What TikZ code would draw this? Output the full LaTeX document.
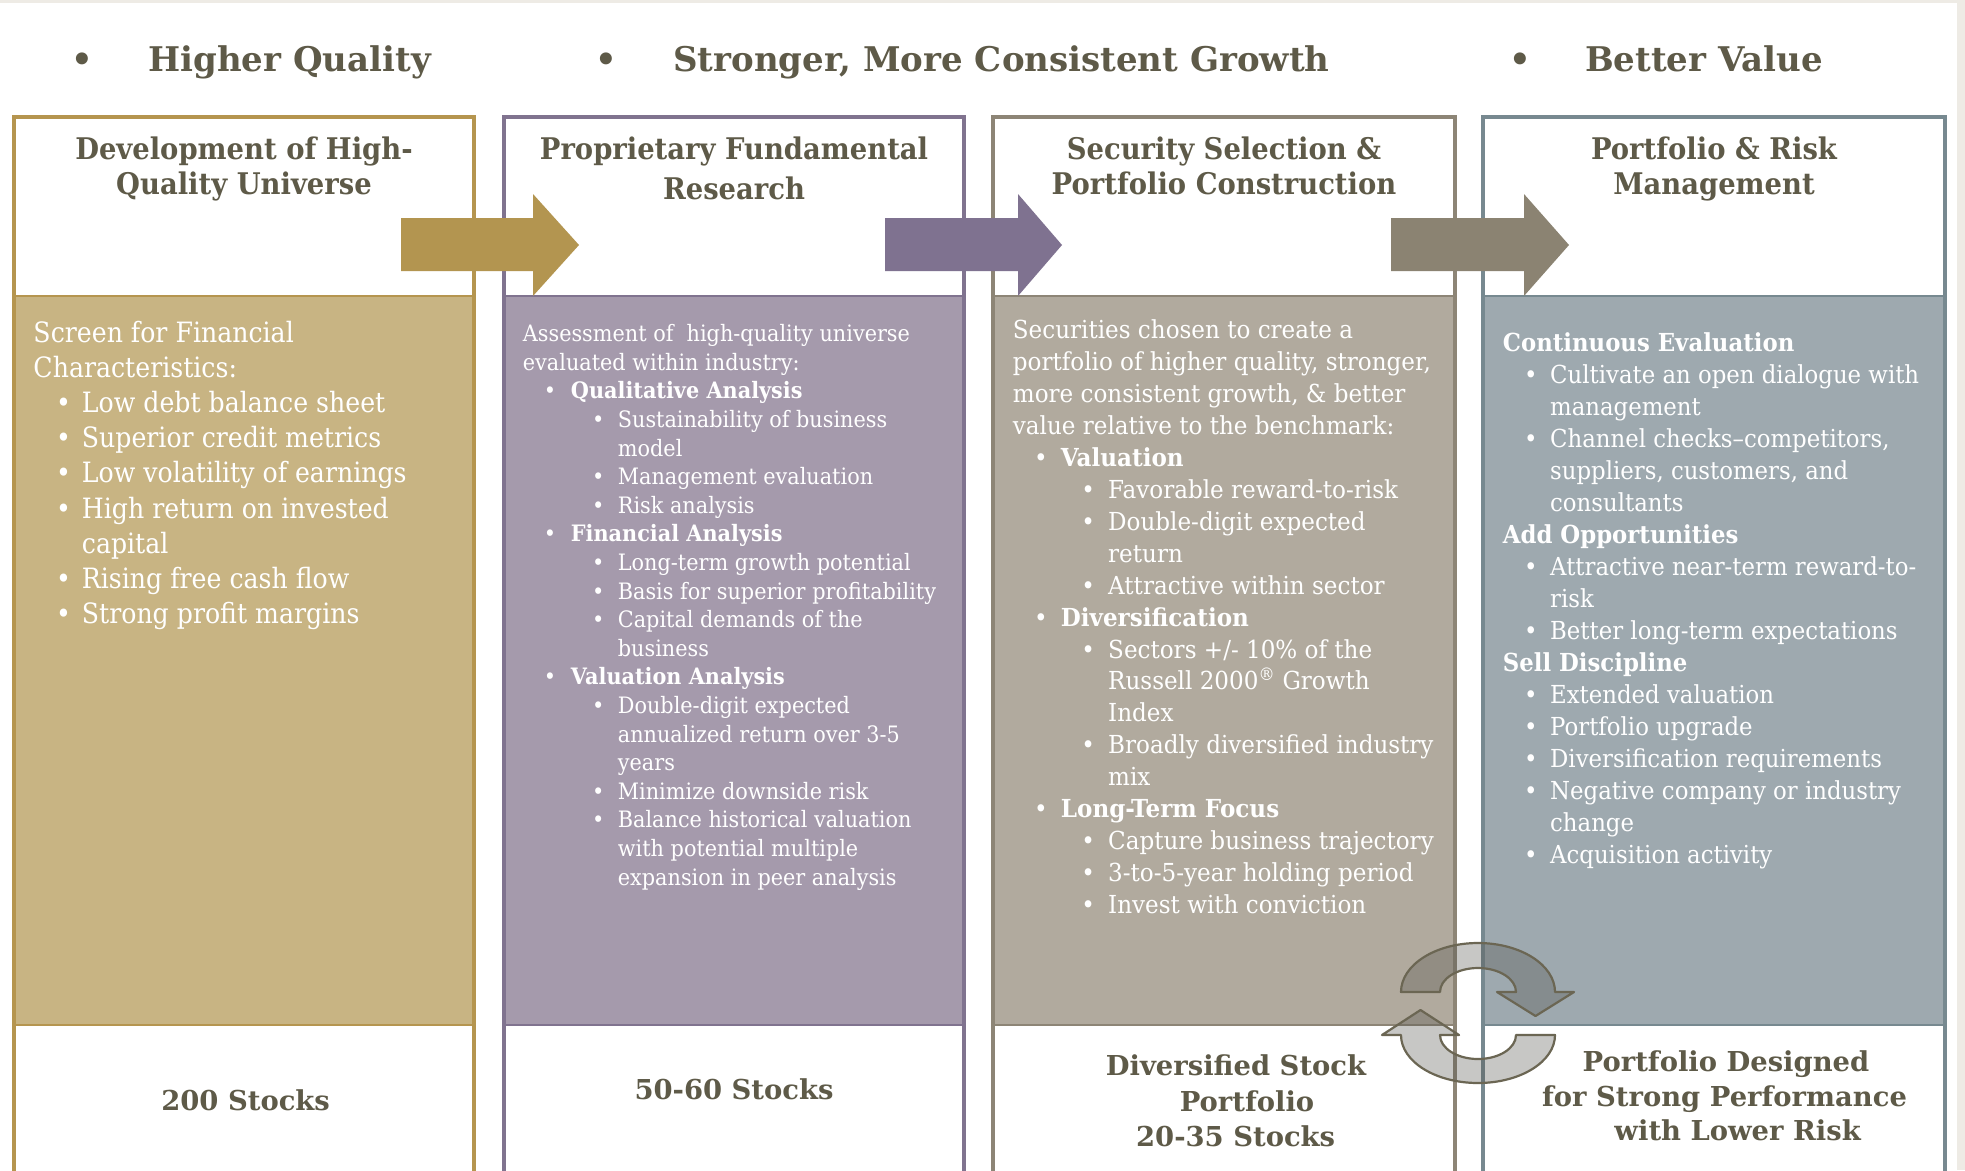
\documentclass[tikz,border=0pt]{standalone}
\usepackage{fontspec}
\setmainfont{DejaVu Serif}
\newfontfamily\bodyfont[FakeStretch=0.92]{DejaVu Serif}
\newfontfamily\bodyfontC[FakeStretch=0.93]{DejaVu Serif}
\newfontfamily\bodyfontA[FakeStretch=0.90]{DejaVu Serif}
\newfontfamily\topfont[FakeStretch=1.0]{DejaVu Serif}
\newfontfamily\ctfont[FakeStretch=0.92]{DejaVu Serif}
\newfontfamily\btfont[FakeStretch=1.0]{DejaVu Serif}
\definecolor{headc}{HTML}{5E5A48}
\definecolor{edgec}{HTML}{EEEBE5}
\definecolor{bA}{HTML}{B5954F}
\definecolor{fA}{HTML}{C8B483}
\definecolor{bB}{HTML}{80738F}
\definecolor{fB}{HTML}{A59AAC}
\definecolor{bC}{HTML}{8D8576}
\definecolor{fC}{HTML}{B1AA9E}
\definecolor{bD}{HTML}{778990}
\definecolor{fD}{HTML}{9EA9AF}
\definecolor{arA}{HTML}{B39550}
\definecolor{arB}{HTML}{7F7290}
\definecolor{arC}{HTML}{8B8372}
\definecolor{cycline}{HTML}{6B6653}
\definecolor{cycfill}{HTML}{51514B}
\newcommand\bu[3]{\hspace*{#1bp}\makebox[0pt]{•}\hspace*{\dimexpr#2bp-#1bp\relax}#3}
\newcommand\ct[2]{\hspace*{#1bp}#2}
\newcommand\pcol[4]{%
  \fill[#4] (#1,296) rectangle (#2,1025);
  \draw[#3, line width=4bp] (#1,1172) -- (#1,117) -- (#2,117) -- (#2,1172);
  \draw[#3, line width=2.5bp] (#1,296) -- (#2,296) (#1,1025) -- (#2,1025);
}
\newcommand\bigarrow[4]{%
  \fill[#4] (#1,218) -- (#2,218) -- (#2,194) -- (#3,245) -- (#2,296) -- (#2,271) -- (#1,271) -- cycle;
}
\tikzset{
  body/.style={anchor=base west, inner sep=0pt, text=white},
  toph/.style={anchor=base west, inner sep=0pt, text=headc, font=\topfont\fontsize{34bp}{40bp}\selectfont\bfseries},
  topdot/.style={anchor=base, inner sep=0pt, text=headc, font=\topfont\fontsize{34bp}{40bp}\selectfont\bfseries},
  ctitle/.style={anchor=base, inner sep=0pt, text=headc},
  btitle/.style={anchor=base, inner sep=0pt, text=headc, font=\btfont\fontsize{27.4bp}{34bp}\selectfont\bfseries},
  cyc/.style={draw=cycline, line width=2.2bp, fill=cycfill, fill opacity=0.32, line join=round}
}
\begin{document}
\begin{tikzpicture}[x=1bp,y=-1bp]
\useasboundingbox (0,0) rectangle (1965,1170);
\fill[white] (0,0) rectangle (1965,1170);
\fill[edgec] (0,0) rectangle (1965,3);
\fill[edgec] (1957,0) rectangle (1965,1170);

% top headings
\node[topdot] (d1) at (82.7,71.7) {•};
\node[toph] (h1) at (148,71.7) {Higher Quality};
\node[topdot] (d2) at (606.5,71.7) {•};
\node[toph] (h2) at (673,71.7) {Stronger, More Consistent Growth};
\node[topdot] (d3) at (1520,71.7) {•};
\node[toph] (h3) at (1585,71.7) {Better Value};

% columns
\pcol{14}{474}{bA}{fA}
\pcol{504}{964}{bB}{fB}
\pcol{993}{1455}{bC}{fC}
\pcol{1483}{1945}{bD}{fD}

% flow arrows
\bigarrow{401}{533}{579}{arA}
\bigarrow{885}{1018}{1062}{arB}
\bigarrow{1391}{1524}{1569}{arC}

% column titles
\node[ctitle] (t1) at (244,159) {\parbox[t]{460bp}{\centering\ctfont\fontsize{29.8bp}{35bp}\selectfont\bfseries Development of High-\\Quality Universe}};
\node[ctitle] (t2) at (734,159) {\parbox[t]{460bp}{\centering\ctfont\fontsize{29.8bp}{40.6bp}\selectfont\bfseries Proprietary Fundamental\\Research}};
\node[ctitle] (t3) at (1224,159) {\parbox[t]{460bp}{\centering\ctfont\fontsize{29.8bp}{35bp}\selectfont\bfseries Security Selection \&\\Portfolio Construction}};
\node[ctitle] (t4) at (1714,159) {\parbox[t]{460bp}{\centering\ctfont\fontsize{29.8bp}{35bp}\selectfont\bfseries Portfolio \& Risk\\Management}};

% column bodies
\node[body] (b1) at (33.3,342) {\parbox[t]{600bp}{\bodyfontA\fontsize{28bp}{35.2bp}\selectfont
Screen for Financial\\
Characteristics:\\
\bu{30}{48.4}{Low debt balance sheet}\\
\bu{30}{48.4}{Superior credit metrics}\\
\bu{30}{48.4}{Low volatility of earnings}\\
\bu{30}{48.4}{High return on invested}\\
\ct{48.4}{capital}\\
\bu{30}{48.4}{Rising free cash flow}\\
\bu{30}{48.4}{Strong profit margins}}};

\node[body] (b2) at (522.7,341.6) {\parbox[t]{600bp}{\bodyfont\fontsize{22.6bp}{28.6bp}\selectfont
Assessment of\ \ high-quality universe\\
evaluated within industry:\\
\bu{27}{48}{\textbf{Qualitative Analysis}}\\
\bu{75.3}{95}{Sustainability of business}\\
\ct{95}{model}\\
\bu{75.3}{95}{Management evaluation}\\
\bu{75.3}{95}{Risk analysis}\\
\bu{27}{48}{\textbf{Financial Analysis}}\\
\bu{75.3}{95}{Long-term growth potential}\\
\bu{75.3}{95}{Basis for superior profitability}\\
\bu{75.3}{95}{Capital demands of the}\\
\ct{95}{business}\\
\bu{27}{48}{\textbf{Valuation Analysis}}\\
\bu{75.3}{95}{Double-digit expected}\\
\ct{95}{annualized return over 3-5}\\
\ct{95}{years}\\
\bu{75.3}{95}{Minimize downside risk}\\
\bu{75.3}{95}{Balance historical valuation}\\
\ct{95}{with potential multiple}\\
\ct{95}{expansion in peer analysis}}};

\node[body] (b3) at (1012.7,338.5) {\parbox[t]{600bp}{\bodyfontC\fontsize{24.8bp}{31.95bp}\selectfont
Securities chosen to create a\\
portfolio of higher quality, stronger,\\
more consistent growth, \& better\\
value relative to the benchmark:\\
\bu{28}{48}{\textbf{Valuation}}\\
\bu{75.3}{95.3}{Favorable reward-to-risk}\\
\bu{75.3}{95.3}{Double-digit expected}\\
\ct{95.3}{return}\\
\bu{75.3}{95.3}{Attractive within sector}\\
\bu{28}{48}{\textbf{Diversification}}\\
\bu{75.3}{95.3}{Sectors +/- 10\% of the}\\
\ct{95.3}{Russell 2000\textsuperscript{®} Growth}\\
\ct{95.3}{Index}\\
\bu{75.3}{95.3}{Broadly diversified industry}\\
\ct{95.3}{mix}\\
\bu{28}{48}{\textbf{Long-Term Focus}}\\
\bu{75.3}{95.3}{Capture business trajectory}\\
\bu{75.3}{95.3}{3-to-5-year holding period}\\
\bu{75.3}{95.3}{Invest with conviction}}};

\node[body] (b4) at (1502.7,351) {\parbox[t]{600bp}{\bodyfont\fontsize{24.8bp}{32bp}\selectfont
\textbf{Continuous Evaluation}\\
\bu{28}{47.3}{Cultivate an open dialogue with}\\
\ct{47.3}{management}\\
\bu{28}{47.3}{Channel checks–competitors,}\\
\ct{47.3}{suppliers, customers, and}\\
\ct{47.3}{consultants}\\
\textbf{Add Opportunities}\\
\bu{28}{47.3}{Attractive near-term reward-to-}\\
\ct{47.3}{risk}\\
\bu{28}{47.3}{Better long-term expectations}\\
\textbf{Sell Discipline}\\
\bu{28}{47.3}{Extended valuation}\\
\bu{28}{47.3}{Portfolio upgrade}\\
\bu{28}{47.3}{Diversification requirements}\\
\bu{28}{47.3}{Negative company or industry}\\
\ct{47.3}{change}\\
\bu{28}{47.3}{Acquisition activity}}};

% bottom texts
\node[btitle] (s1) at (245.6,1110) {200 Stocks};
\node[btitle] (s2) at (734,1099) {50-60 Stocks};
\node[btitle] (s3a) at (1236,1075) {Diversified Stock};
\node[btitle] (s3b) at (1247,1111) {Portfolio};
\node[btitle] (s3c) at (1235.6,1146) {20-35 Stocks};
\node[btitle] (s4a) at (1726,1071) {Portfolio Designed};
\node[btitle] (s4b) at (1724.5,1106) {for Strong Performance};
\node[btitle] (s4c) at (1737.6,1140.5) {with Lower Risk};

% cycle arrows
\draw[cyc] (1555,1035) arc[start angle=0, end angle=180, x radius=77, y radius=48]
  -- (1382,1035) -- (1420.5,1010) -- (1459,1035) -- (1440,1035)
  arc[start angle=180, end angle=0, x radius=38, y radius=24] -- cycle;
\draw[cyc] (1401,992) arc[start angle=180, end angle=360, x radius=77, y radius=49]
  -- (1574,992) -- (1535.5,1016) -- (1497,992) -- (1516,992)
  arc[start angle=0, end angle=-180, x radius=38, y radius=24] -- cycle;
\end{tikzpicture}
\end{document}
